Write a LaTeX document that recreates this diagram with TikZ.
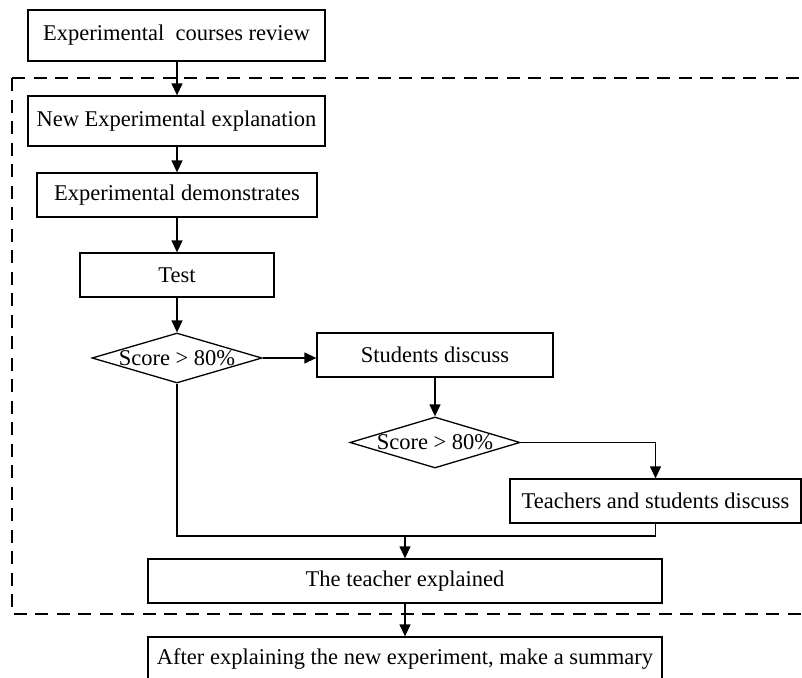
\documentclass[tikz,border=0pt]{standalone}
\usepackage{fontspec}
\setmainfont{Liberation Serif}
\usetikzlibrary{shapes.geometric,arrows.meta}
\begin{document}
\begin{tikzpicture}[x=1pt,y=-1pt,
  every node/.style={font=\fontsize{22.5}{26}\selectfont},
  box/.style={draw,line width=1.3pt,rectangle,inner sep=0pt},
  dec/.style={draw,line width=1.3pt,diamond,inner sep=0pt,minimum width=170pt,minimum height=50pt},
  arr/.style={line width=1.3pt,-{Triangle[length=12pt,width=11pt]}},
  ln/.style={line width=1.3pt}]
\useasboundingbox (0,0) rectangle (802,677);
\clip (0,0) rectangle (802,677);
\node[box,minimum width=297pt,minimum height=51pt] (b1) at (176.5,35.5) {Experimental\ \ courses review};
\node[box,minimum width=297pt,minimum height=50pt] (b2) at (176.5,121) {New Experimental explanation};
\node[box,minimum width=280pt,minimum height=44pt] (b3) at (177,195) {Experimental demonstrates};
\node[box,minimum width=194pt,minimum height=44pt] (test) at (177,275) {Test};
\node[dec] (d1) at (177,358) {\makebox[0pt]{Score > 80\%}};
\node[box,minimum width=236pt,minimum height=44pt] (stud) at (435,355) {Students discuss};
\node[dec,minimum height=51pt] (d2) at (435,442.5) {\makebox[0pt]{Score > 80\%}};
\node[box,minimum width=291pt,minimum height=44pt] (tsd) at (655.5,501) {Teachers and students discuss};
\node[box,minimum width=514pt,minimum height=44pt] (teach) at (405,581) {The teacher explained};
\node[box,minimum width=514pt,minimum height=44pt] (summ) at (405,659) {After explaining the new experiment, make a summary};
\draw[line width=1.3pt,dash pattern=on 13pt off 8.5pt] (12,78) -- (830,78) (12,78) -- (12,614) -- (830,614);
\coordinate (merge) at (405,536);
\draw[arr] (b1.south -| 177,0) -- (b2.north -| 177,0);
\draw[arr] (b2.south -| 177,0) -- (b3.north);
\draw[arr] (b3.south) -- (test.north);
\draw[arr] (test.south) -- (d1.north);
\draw[arr] (d1.east) -- (stud.west |- d1.east);
\draw[arr] (stud.south) -- (d2.north);
\draw[arr] (d2.east) -| (tsd.north);
\draw[ln] (d1.south) |- (tsd.south |- merge) -- (tsd.south);
\draw[arr] (merge) -- (teach.north);
\draw[arr] (teach.south) -- (summ.north);
\end{tikzpicture}
\end{document}
